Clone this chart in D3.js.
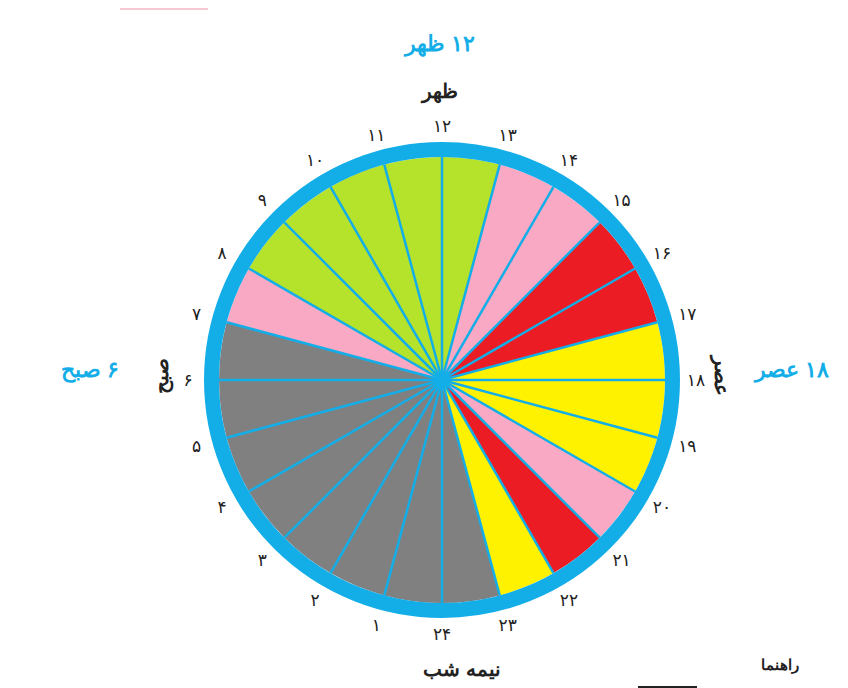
<!DOCTYPE html>
<html><head><meta charset="utf-8">
<script src="https://cdn.jsdelivr.net/npm/d3@7"></script>
<style>body{margin:0;background:#fff}</style></head>
<body><svg id="c" width="848" height="688"></svg>
<script>
const hours = d3.range(1,25);
const hourLabels = ["۱","۲","۳","۴","۵","۶","۷","۸","۹","۱۰","۱۱","۱۲","۱۳","۱۴","۱۵","۱۶","۱۷","۱۸","۱۹","۲۰","۲۱","۲۲","۲۳","۲۴"];
// segment colour for hour interval starting at hour h (h -> h+1), h = 0..23
const segCategories = ["gray","gray","gray","gray","gray","gray","gray","pink","green","green","green","green",
  "green","pink","pink","red","red","yellow","yellow","yellow","pink","red","yellow","gray"];
const palette = {gray:"#808080",pink:"#f9a9c4",green:"#b5e22a",red:"#ec1c24",yellow:"#fff200"};
const blue = "#13aee8";

const svg = d3.select("#c");
const cx=442, cy=380, R=223, ringW=15;
const ang = d3.scaleLinear().domain([0,24]).range([Math.PI, 3*Math.PI]); // hour 12 at top
const g = svg.append("g").attr("transform",`translate(${cx},${cy})`);
const arc = d3.arc().innerRadius(0).outerRadius(R);
g.selectAll("path.seg").data(segCategories).join("path")
  .attr("d",(c,i)=>arc({startAngle:ang(i),endAngle:ang(i+1)}))
  .attr("fill",c=>palette[c]);
g.selectAll("line.sp").data(d3.range(24)).join("line")
  .attr("x1",0).attr("y1",0)
  .attr("x2",h=>R*Math.sin(ang(h))).attr("y2",h=>-R*Math.cos(ang(h)))
  .attr("stroke",blue).attr("stroke-width",2.5);
g.append("circle").attr("r",R+ringW/2).attr("fill","none").attr("stroke",blue).attr("stroke-width",ringW);
g.append("circle").attr("r",7).attr("fill",blue);
const LR=254;
g.selectAll("text.h").data(hours).join("text")
  .attr("x",h=>LR*Math.sin(ang(h))).attr("y",h=>-LR*Math.cos(ang(h)))
  .attr("text-anchor","middle").attr("dominant-baseline","central")
  .attr("font-family","DejaVu Sans").attr("font-size",17).attr("fill","#222")
  .text((h,i)=>hourLabels[i]);

const T=(x,y,t,o)=>svg.append("text").attr("x",x).attr("y",y).attr("text-anchor","middle")
  .attr("dominant-baseline","central").attr("font-family","Noto Sans").attr("font-weight","bold")
  .attr("font-size",o.s||20).attr("fill",o.c||"#222").attr("direction","rtl")
  .attr("transform",o.r?`rotate(${o.r},${x},${y})`:null).text(t);
T(440,42,"۱۲ ظهر",{c:blue,s:22});
T(440,90,"ظهر",{s:20});
T(792,368,"۱۸ عصر",{c:blue,s:22});
T(90,368,"۶ صبح",{c:blue,s:22});
T(722,376,"عصر",{s:20,r:90});
T(160,376,"صبح",{s:20,r:-90});
T(462,668,"نیمه شب",{s:20});
T(780,664,"راهنما",{s:15});
svg.append("line").attr("x1",638).attr("x2",697).attr("y1",687).attr("y2",687).attr("stroke","#222").attr("stroke-width",2);
svg.append("line").attr("x1",120).attr("x2",208).attr("y1",9).attr("y2",9).attr("stroke","#f3b6c6").attr("stroke-width",1.5);
</script></body></html>
